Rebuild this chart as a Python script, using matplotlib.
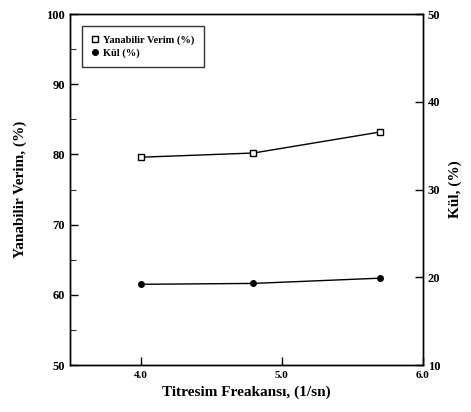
import matplotlib
matplotlib.use("Agg")
import matplotlib.pyplot as plt
from matplotlib.ticker import MultipleLocator

plt.rcParams['font.family'] = ['Liberation Serif', 'DejaVu Serif']
plt.rcParams['font.weight'] = 'bold'

# data
freq = [4.0, 4.8, 5.7]
verim = [79.6, 80.2, 83.2]   # left axis (%)
kul = [19.2, 19.3, 19.9]     # right axis (%)

fig = plt.figure(figsize=(4.71, 4.12), dpi=100)
ax = fig.add_axes([0.1486, 0.114, 0.749, 0.852])
ax2 = ax.twinx()

l1, = ax.plot(freq, verim, color='black', lw=1.0, marker='s', ms=4.5,
              mfc='white', mec='black', mew=1.0, label='Yanabilir Verim (%)')
l2, = ax2.plot(freq, kul, color='black', lw=1.0, marker='o', ms=4.0,
               mfc='black', mec='black', label='Kül (%)')

ax.set_xlim(3.5, 6.0)
ax.set_ylim(50, 100)
ax2.set_ylim(10, 50)

ax.set_xticks([4.0, 5.0, 6.0])
ax.set_xticklabels(['4.0', '5.0', '6.0'], fontsize=8)
ax.set_yticks([50, 60, 70, 80, 90, 100])
ax.yaxis.set_minor_locator(MultipleLocator(5))
ax2.set_yticks([10, 20, 30, 40, 50])

ax.tick_params(axis='both', direction='in', length=6, width=1, labelsize=9)
ax.tick_params(axis='x', labelsize=8, pad=4)
ax.tick_params(axis='y', which='minor', direction='in', length=4)
ax2.tick_params(axis='y', direction='in', length=6, width=1, labelsize=9)

for a in (ax, ax2):
    for s in a.spines.values():
        s.set_linewidth(1.0)

ax.set_xlabel('Titresim Freakansı, (1/sn)', fontsize=11, fontweight='bold')
ax.set_ylabel('Yanabilir Verim, (%)', fontsize=11, fontweight='bold', labelpad=14)
ax2.set_ylabel('Kül, (%)', fontsize=11, fontweight='bold', labelpad=6)

leg = ax.legend(handles=[l1, l2], loc='upper left', bbox_to_anchor=(0.035, 0.965),
                fontsize=7.5, frameon=True, fancybox=False, edgecolor='black',
                handlelength=0.6, handletextpad=0.5, borderpad=0.9,
                labelspacing=0.3, borderaxespad=0.0)
leg.get_frame().set_linewidth(1.0)
for h in leg.get_lines():
    h.set_linestyle('none')

fig.savefig('out.png', dpi=100)
